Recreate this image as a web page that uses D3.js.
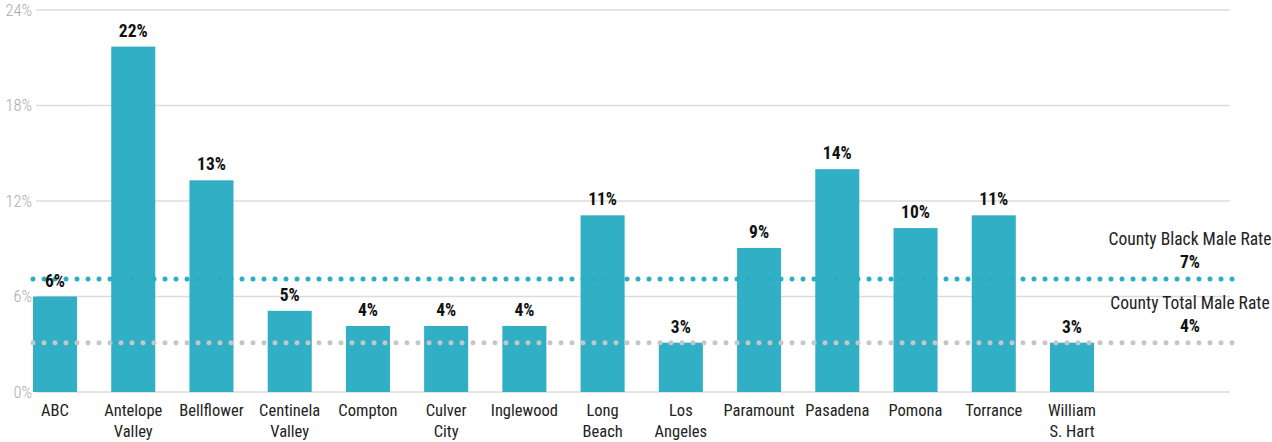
<!DOCTYPE html>
<html>
<head>
<meta charset="utf-8">
<script src="https://cdn.jsdelivr.net/npm/d3@7"></script>
<style>
  body { margin: 0; background: #fff; }
  svg text { font-family: "Roboto Condensed", "Liberation Sans Narrow", "DejaVu Sans Condensed", "Roboto", sans-serif; }
</style>
</head>
<body>
<svg id="chart"></svg>
<script>
// Chart data
const categories = ["ABC", "Antelope Valley", "Bellflower", "Centinela Valley", "Compton", "Culver City",
  "Inglewood", "Long Beach", "Los Angeles", "Paramount", "Pasadena", "Pomona", "Torrance", "William S. Hart"];
const categoryLines = [["ABC"], ["Antelope", "Valley"], ["Bellflower"], ["Centinela", "Valley"], ["Compton"],
  ["Culver", "City"], ["Inglewood"], ["Long", "Beach"], ["Los", "Angeles"], ["Paramount"], ["Pasadena"],
  ["Pomona"], ["Torrance"], ["William", "S. Hart"]];
const rates = [6.0, 21.7, 13.3, 5.1, 4.15, 4.15, 4.15, 11.1, 3.1, 9.05, 14.0, 10.3, 11.1, 3.1];
const rateLabels = ["6%", "22%", "13%", "5%", "4%", "4%", "4%", "11%", "3%", "9%", "14%", "10%", "11%", "3%"];
const yTicks = [0, 6, 12, 18, 24];

const refNames = ["County Black Male Rate", "County Total Male Rate"];
const refValues = [7.1, 3.1];
const refLabels = ["7%", "4%"];
const refColors = ["#2aaec4", "#c6c6c6"];

const W = 1272, H = 442;
const svg = d3.select("#chart").attr("width", W).attr("height", H);

const y = d3.scaleLinear().domain([0, 24]).range([392, 10]);
const x = d3.scaleBand().domain(categories).range([33, 1094]).paddingInner(0.437).paddingOuter(0);

// Gridlines
svg.append("g").selectAll("line")
  .data(yTicks).enter().append("line")
  .attr("x1", 36).attr("x2", 1230)
  .attr("y1", d => y(d)).attr("y2", d => y(d))
  .attr("stroke", "#dcdcdc").attr("stroke-width", 1.5);

// Y axis labels
svg.append("g").selectAll("text")
  .data(yTicks).enter().append("text")
  .attr("x", 32).attr("y", d => y(d))
  .attr("dy", "0.36em")
  .attr("text-anchor", "end")
  .attr("fill", "#aaaaaa")
  .attr("font-size", 16.5)
  .attr("font-weight", 300)
  .text(d => d + "%");

// Bars
svg.append("g").selectAll("rect")
  .data(categories).enter().append("rect")
  .attr("x", d => x(d))
  .attr("width", x.bandwidth())
  .attr("y", (d, i) => y(rates[i]))
  .attr("height", (d, i) => y(0) - y(rates[i]))
  .attr("fill", "#30afc5");

// Reference lines (dotted)
svg.append("g").selectAll("line")
  .data(refValues).enter().append("line")
  .attr("x1", 33).attr("x2", 1236)
  .attr("y1", d => y(d)).attr("y2", d => y(d))
  .attr("stroke", (d, i) => refColors[i])
  .attr("stroke-width", 5)
  .attr("stroke-linecap", "round")
  .attr("stroke-dasharray", "0 11");

// Value labels
svg.append("g").selectAll("text")
  .data(categories).enter().append("text")
  .attr("x", d => x(d) + x.bandwidth() / 2)
  .attr("y", (d, i) => y(rates[i]) - 10)
  .attr("text-anchor", "middle")
  .attr("font-size", 17.5)
  .attr("font-weight", "bold")
  .attr("fill", "#111")
  .text((d, i) => rateLabels[i]);

// Category labels
const cat = svg.append("g").selectAll("text")
  .data(categories).enter().append("text")
  .attr("x", d => x(d) + x.bandwidth() / 2)
  .attr("y", 416)
  .attr("text-anchor", "middle")
  .attr("font-size", 16.5)
  .attr("fill", "#222");
cat.each(function(d, i) {
  const t = d3.select(this);
  categoryLines[i].forEach((ln, j) => {
    t.append("tspan").attr("x", x(d) + x.bandwidth() / 2).attr("dy", j === 0 ? 0 : 21).text(ln);
  });
});

// Reference labels
const refG = svg.append("g").selectAll("g")
  .data(refValues).enter().append("g");
refG.append("text")
  .attr("x", 1190).attr("y", d => y(d) - 34)
  .attr("text-anchor", "middle")
  .attr("font-size", 17.5)
  .attr("fill", "#222")
  .text((d, i) => refNames[i]);
refG.append("text")
  .attr("x", 1190).attr("y", d => y(d) - 11)
  .attr("text-anchor", "middle")
  .attr("font-size", 17.5)
  .attr("font-weight", "bold")
  .attr("fill", "#111")
  .text((d, i) => refLabels[i]);
</script>
</body>
</html>
